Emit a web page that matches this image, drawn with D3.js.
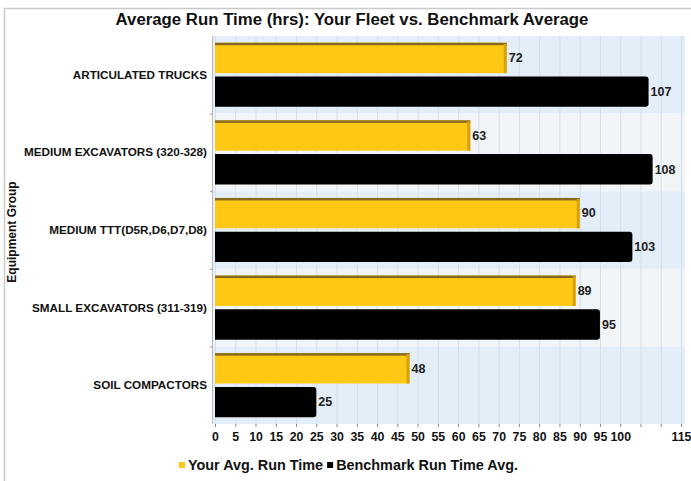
<!DOCTYPE html>
<html>
<head>
<meta charset="utf-8">
<script src="https://cdn.jsdelivr.net/npm/d3@7"></script>
<style>
  body { margin: 0; background: #fff; }
  text { font-family: "Liberation Sans", Arial, sans-serif; font-weight: bold; }
</style>
</head>
<body>
<div id="chart"></div>
<script>
var categories = [
  "ARTICULATED TRUCKS",
  "MEDIUM EXCAVATORS (320-328)",
  "MEDIUM TTT(D5R,D6,D7,D8)",
  "SMALL EXCAVATORS (311-319)",
  "SOIL COMPACTORS",
];
var yourFleet = [72, 63, 90, 89, 48];
var benchmark = [107, 108, 103, 95, 25];
var seriesNames = ["Your Avg. Run Time", "Benchmark Run Time Avg."];
var tickValues = [0, 5, 10, 15, 20, 25, 30, 35, 40, 45, 50, 55, 60, 65, 70, 75, 80, 85, 90, 95, 100, 105, 110, 115];
var tickLabels = [0, 5, 10, 15, 20, 25, 30, 35, 40, 45, 50, 55, 60, 65, 70, 75, 80, 85, 90, 95, 100, 115];

var W = 691, H = 481;
var plot = { left: 215, right: 681, top: 36, bottom: 424 };

var svg = d3.select("#chart").append("svg").attr("width", W).attr("height", H);

// outer frame
svg.append("path")
  .attr("d", "M4.5," + H + " V8.5 H" + W)
  .attr("fill", "none")
  .attr("stroke", "#c9c9c9")
  .attr("stroke-width", 1.5);

var x = d3.scaleLinear().domain([0, 115]).range([plot.left, plot.right]);
var y = d3.scaleBand().domain(categories).range([plot.top, plot.bottom]);
var inner = d3.scaleBand().domain([0, 1]).range([0, y.bandwidth()]).paddingInner(0.1).paddingOuter(0.2);

// band backgrounds
svg.append("g").selectAll("rect")
  .data(categories)
  .enter()
  .append("rect")
  .attr("x", x(0) - 2)
  .attr("y", function (d) { return y(d); })
  .attr("width", x(116) - x(0) + 2)
  .attr("height", y.bandwidth())
  .attr("fill", function (d, i) { return i % 2 == 0 ? "#e3eef8" : "#f2f5f8"; });

// vertical grid
svg.append("g").selectAll("line")
  .data(tickValues)
  .enter()
  .append("line")
  .attr("x1", function (d) { return x(d) + 0.5; })
  .attr("x2", function (d) { return x(d) + 0.5; })
  .attr("y1", plot.top)
  .attr("y2", plot.bottom)
  .attr("stroke", "#d3dfea")
  .attr("stroke-width", 1);

// left axis line + ticks at band edges
svg.append("line")
  .attr("x1", x(0) - 2.5).attr("x2", x(0) - 2.5)
  .attr("y1", plot.top).attr("y2", plot.bottom)
  .attr("stroke", "#b8b8b8");
svg.append("g").selectAll("line")
  .data(categories.slice(1))
  .enter()
  .append("line")
  .attr("x1", x(0) - 5).attr("x2", x(0) - 2)
  .attr("y1", function (d) { return y(d) + 0.5; })
  .attr("y2", function (d) { return y(d) + 0.5; })
  .attr("stroke", "#999");

// yellow bars (3D look)
var gy = svg.append("g").selectAll("g")
  .data(yourFleet)
  .enter()
  .append("g")
  .attr("transform", function (d, i) { return "translate(0," + (y(categories[i]) + inner(0)) + ")"; });
gy.append("rect")
  .attr("x", x(0))
  .attr("y", 0)
  .attr("width", function (d) { return x(d) - x(0); })
  .attr("height", inner.bandwidth())
  .attr("fill", "#ffc814");
gy.append("rect")
  .attr("x", x(0))
  .attr("y", 0)
  .attr("width", function (d) { return x(d) - x(0); })
  .attr("height", 2.5)
  .attr("fill", "#86691d");
gy.append("rect")
  .attr("x", function (d) { return x(d) - 3; })
  .attr("y", 1)
  .attr("width", 3)
  .attr("height", inner.bandwidth() - 1)
  .attr("fill", "#d6a20c");
gy.append("text")
  .attr("x", function (d) { return x(d) + 2; })
  .attr("y", inner.bandwidth() / 2)
  .attr("dy", "0.35em")
  .attr("font-size", 12.5)
  .attr("fill", "#222")
  .text(function (d) { return d; });

// black bars (rounded right end)
var gb = svg.append("g").selectAll("g")
  .data(benchmark)
  .enter()
  .append("g")
  .attr("transform", function (d, i) { return "translate(0," + (y(categories[i]) + inner(1)) + ")"; });
gb.append("path")
  .attr("d", function (d) {
    var w = x(d) - x(0), h = inner.bandwidth(), r = 3;
    return "M" + x(0) + ",0 H" + (x(0) + w - r) + " Q" + (x(0) + w) + ",0 " + (x(0) + w) + "," + r +
      " V" + (h - r) + " Q" + (x(0) + w) + "," + h + " " + (x(0) + w - r) + "," + h + " H" + x(0) + " Z";
  })
  .attr("fill", "#000");
gb.append("text")
  .attr("x", function (d) { return x(d) + 2; })
  .attr("y", inner.bandwidth() / 2)
  .attr("dy", "0.35em")
  .attr("font-size", 12.5)
  .attr("fill", "#222")
  .text(function (d) { return d; });

// category labels
svg.append("g").selectAll("text")
  .data(categories)
  .enter()
  .append("text")
  .attr("x", 207)
  .attr("y", function (d) { return y(d) + y.bandwidth() / 2; })
  .attr("dy", "0.35em")
  .attr("text-anchor", "end")
  .attr("font-size", 11.7)
  .attr("fill", "#111")
  .text(function (d) { return d; });

// bottom axis
var xAxis = svg.append("g")
  .attr("transform", "translate(0," + plot.bottom + ")")
  .call(d3.axisBottom(x).tickValues(tickValues).tickSize(3).tickPadding(5)
    .tickFormat(function (d) { return tickLabels.indexOf(d) >= 0 ? d : ""; }));
xAxis.select(".domain").remove();
xAxis.selectAll("line").attr("stroke", "#888");
xAxis.selectAll("text")
  .attr("font-size", 12.3)
  .attr("fill", "#111")
  .style("font-family", "Liberation Sans, Arial, sans-serif")
  .style("font-weight", "bold");

// axis title
svg.append("text")
  .attr("transform", "translate(16,232) rotate(-90)")
  .attr("text-anchor", "middle")
  .attr("font-size", 12)
  .attr("fill", "#111")
  .text("Equipment Group");

// title
svg.append("text")
  .attr("x", 352)
  .attr("y", 25)
  .attr("text-anchor", "middle")
  .attr("font-size", 16.8)
  .attr("fill", "#111")
  .text("Average Run Time (hrs): Your Fleet vs. Benchmark Average");

// legend
var legendColors = ["#ffc814", "#000"];
var lx = 179;
seriesNames.forEach(function (name, i) {
  svg.append("rect")
    .attr("x", lx)
    .attr("y", 462)
    .attr("width", 6)
    .attr("height", 6)
    .attr("fill", legendColors[i]);
  var t = svg.append("text")
    .attr("x", lx + 9)
    .attr("y", 465)
    .attr("dy", "0.35em")
    .attr("font-size", 14.4)
    .attr("fill", "#111")
    .text(name);
  lx += 9 + t.node().getComputedTextLength() + 4;
});
</script>
</body>
</html>
